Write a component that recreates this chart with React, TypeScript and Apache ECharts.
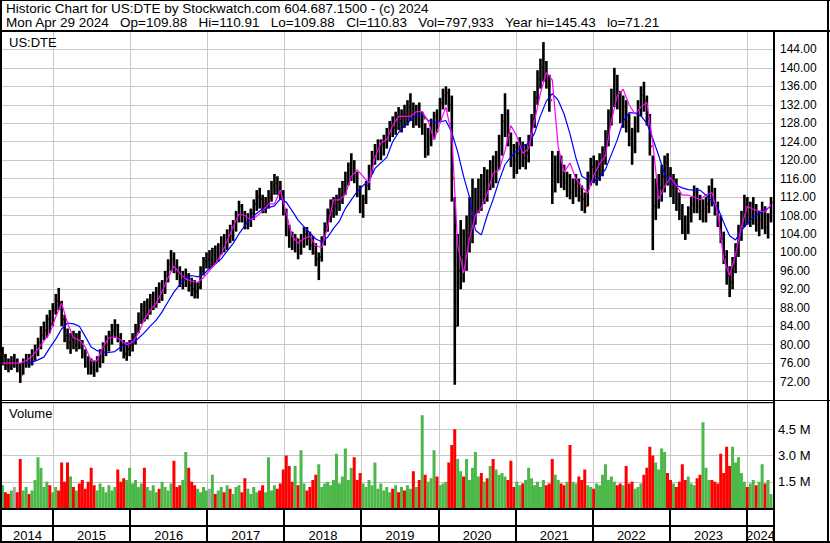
import React, { useEffect, useRef } from 'react';
import * as echarts from 'echarts';

// ---- axis extents (fractional years) ----
const X_MIN = 2014.3385;
const X_MAX = 2024.35;
const START = 2014.345;
const STEP = 14 / 365.25; // one bar = two weeks

const yearStarts = [2015, 2016, 2017, 2018, 2019, 2020, 2021, 2022, 2023, 2024];
const yearLabels = ['2014', '2015', '2016', '2017', '2018', '2019', '2020', '2021', '2022', '2023', '2024'];

// ---- two-week price bars ----
const priceLow = [
  75.5, 74.5, 74, 74.5, 75, 74, 71.7, 73.5, 75, 75,
  75.5, 76.5, 77.5, 79, 81, 81.5, 82.5, 84, 86.5, 87.5,
  84, 80.5, 79, 78, 79, 78.5, 79, 77, 75, 73.5,
  73.5, 73, 74, 75, 76, 77.5, 78.5, 80, 81.5, 80.5,
  78.5, 77, 76.5, 77.5, 78.5, 80, 82.5, 84.5, 85, 85.5,
  86.5, 87.5, 88, 89, 89.5, 91, 93.5, 96, 95.5, 94,
  92.5, 92, 92.5, 91.5, 90.5, 90, 90, 92, 95, 96.5,
  96.5, 97, 97.5, 98, 99.5, 100, 100.5, 102, 102.5, 104.5,
  106.5, 106.5, 105, 105, 105.5, 107, 109, 109.5, 108.5, 108.5,
  109.5, 111, 112.5, 112.5, 111.5, 108, 103.5, 101, 100.5, 100,
  98.5, 99.5, 101, 101.5, 100.5, 99.5, 97, 94, 98, 101.5,
  104.5, 106.5, 107.5, 108, 109, 110.5, 112.5, 114.5, 115.5, 115,
  112, 108.5, 107.5, 110.5, 113.5, 117, 119, 120, 120, 121,
  122.5, 124, 125, 125.5, 126.5, 126, 127, 127.5, 128.5, 127,
  127.5, 127, 125.5, 120.5, 121, 123, 124.5, 126, 128.5, 131,
  132, 130.5, 111, 71.3, 84, 92, 93.5, 96, 100, 102,
  106, 108.5, 109, 110.5, 111, 113.5, 114, 115, 118, 121,
  125, 123, 118.5, 116, 117, 118, 118.5, 118, 119.5, 123,
  127, 132, 135.5, 137, 135.5, 130.5, 110.5, 113, 115, 114,
  113.5, 112, 111.5, 110.5, 112, 111, 109, 108.5, 110, 114.5,
  115, 114.5, 115.5, 116.5, 119, 123, 127.5, 131.5, 131, 128,
  127, 126, 123, 119, 121.5, 126, 129.5, 130.5, 127.5, 121,
  100.5, 107, 109.5, 111, 113, 114.5, 112, 110.5, 109, 107,
  104, 102.7, 104, 106.5, 108.5, 108.5, 107, 106.5, 106.5, 108.5,
  110, 108, 105.5, 102, 97.5, 93, 90.3, 92, 95.5, 99,
  102.5, 105.5, 106, 105.5, 106, 104.5, 103.5, 105, 104, 103, 106.5,
];
const priceHigh = [
  79.5, 78, 77, 77.5, 78, 77, 76, 77, 78, 78,
  79, 80, 81.5, 84, 85, 86.5, 87.5, 89, 91, 92.3,
  89.5, 86.5, 83.5, 82.5, 83, 82.5, 83, 81, 79, 77.5,
  77, 76.5, 77.5, 79, 80.5, 82, 83, 84.5, 85.5, 84.5,
  82.5, 81, 80.5, 81, 82.5, 84.5, 87, 89, 89.5, 90,
  91, 91.5, 92.5, 93.5, 94, 96, 98.5, 100.5, 100, 98.5,
  97, 96, 96.5, 95.5, 94.5, 94, 93.5, 97, 99, 100,
  100.5, 101, 101.5, 102, 103.5, 104, 105, 106, 107, 109,
  111.2, 110.5, 109, 108.5, 109.5, 111.5, 113.5, 114, 112.5, 112,
  113.5, 115.5, 117, 116.5, 115.5, 113.5, 109.5, 106, 104.5, 104,
  103, 104, 105.5, 105.5, 104.5, 103.5, 102, 100, 103.5, 106.5,
  109.5, 111.5, 112, 112.5, 114, 115.5, 117.5, 119.5, 121.5, 120,
  117.5, 114.5, 112.5, 115.5, 119, 122, 123.5, 124.5, 124.5, 125.5,
  127, 128.5, 129.5, 130.5, 131.5, 131, 132, 133, 134.5, 132.5,
  132, 132.5, 130.5, 128, 127, 129, 130.5, 131, 133.5, 135.5,
  136, 135.5, 134, 112, 104, 107, 105, 108, 112, 116,
  114, 116, 117, 118.5, 118, 120, 121, 122, 125.5, 130,
  134.5, 131, 126, 123.5, 124, 125, 124, 123.5, 125.5, 130,
  135, 139.5, 142, 145.6, 141.5, 138.5, 122, 121, 122, 121,
  119, 117.5, 117, 116, 117, 116, 114.5, 113, 117.5, 120.5,
  121, 120, 121.5, 123, 126.5, 131, 135.5, 140, 138.5, 135,
  134, 133, 130, 127, 129.5, 133, 136, 137, 134, 130,
  121, 116, 117, 119, 121, 121.5, 118.5, 117, 116, 113,
  110.5, 108, 110, 112, 114.5, 114, 112.5, 111.5, 112, 114.5,
  116, 114, 111, 108, 104.5, 100.5, 97, 99, 102, 106,
  109, 112.5, 112, 111, 112, 110.5, 109, 111, 110, 108.5, 112,
];
const priceClose = [
  77.5, 75.5, 75, 76.5, 76.5, 74.5, 73.5, 76, 76.5, 76,
  77.5, 78.5, 80.5, 82, 83, 85.5, 84.5, 87.5, 89.5, 89,
  85.5, 82, 80.5, 81, 80, 81.5, 80, 78, 76, 75.5,
  75, 74.5, 76.5, 77.5, 79.5, 80, 82, 83, 84, 81.5,
  80, 78, 79, 80, 81.5, 83.5, 85.5, 87.5, 86.5, 88.5,
  89.5, 90, 91.5, 90.5, 92.5, 95, 97.5, 98.5, 97, 95.5,
  94, 94.5, 95, 93, 92, 91.5, 92.5, 96, 98, 98.5,
  98.5, 99.5, 99, 101, 102, 101.5, 104, 103.5, 106, 107.5,
  110, 108, 106.5, 107, 108.5, 110.5, 112, 111.5, 110, 110.5,
  112, 114.5, 115, 114, 113, 109, 105, 103, 102, 103,
  100.5, 102.5, 104, 103, 101.5, 100, 98.5, 99, 102.5, 105.5,
  108.5, 109.5, 110, 111, 112.5, 114.5, 116.5, 118, 119.5, 116.5,
  113.5, 110, 111.5, 114.5, 118, 120.5, 122, 122.5, 123.5, 124,
  125.5, 127.5, 127, 129.5, 128.5, 130, 129.5, 131.5, 132, 129.5,
  130.5, 128.5, 129, 123, 125, 127.5, 129.5, 128.5, 132.5, 134,
  134.5, 132, 116, 84, 96, 99, 98, 103.5, 107.5, 109,
  110.5, 113, 112, 116.5, 115.5, 118.5, 117, 120.5, 124, 128.5,
  130, 125, 121, 120, 121.5, 123, 120.5, 121.5, 124.5, 129,
  133.5, 137.5, 140, 141, 137.5, 133, 115.5, 118.5, 119, 117.5,
  115, 116.5, 113, 114.5, 115, 112, 111.5, 110, 116.5, 118.5,
  117.5, 118, 119.5, 121.5, 125, 129.5, 133.5, 137.5, 133, 131,
  131.5, 128, 125, 122.5, 128, 131, 134, 133, 129, 123,
  110, 112.5, 114, 116.5, 119.5, 117, 114, 115.5, 111.5, 109,
  106, 105, 108.5, 110.5, 113, 110, 109, 109.5, 110.5, 113,
  112, 109.5, 106.5, 103, 99, 95, 93.5, 97, 100.5, 104.5,
  107.5, 110.5, 108, 109.5, 110, 106, 107, 109.5, 105.5, 107.5, 110.8,
];

// ---- volume (millions) ----
const volumeM = [
  1.3, 0.9, 0.8, 1.0, 1.2, 0.9, 2.8, 1.0, 1.2, 0.8,
  1.0, 1.6, 2.9, 2.3, 1.2, 1.5, 1.3, 0.9, 1.2, 1.0,
  2.6, 1.5, 2.6, 1.8, 1.2, 1.0, 1.4, 1.6, 1.1, 1.5,
  2.3, 1.3, 1.0, 1.4, 1.2, 0.9, 1.3, 1.0, 1.2, 2.2,
  1.5, 1.7, 1.6, 2.3, 1.4, 1.6, 1.2, 1.4, 2.3, 1.2,
  1.0, 1.3, 0.9, 1.1, 1.5, 1.2, 1.0, 1.4, 2.7, 1.2,
  1.3, 1.6, 3.2, 2.3, 1.5, 1.3, 1.1, 0.9, 1.2, 1.0,
  1.1, 1.9, 0.8, 1.0, 1.2, 0.9, 1.3, 1.1, 0.8, 1.2,
  1.3, 0.9, 1.7, 1.1, 0.8, 1.2, 0.9, 1.0, 1.3, 0.9,
  2.9, 1.0, 1.3, 1.1, 1.4, 2.2, 3.0, 2.4, 1.5, 2.4,
  1.3, 3.3, 1.4, 1.0, 1.2, 1.6, 1.9, 2.5, 1.2, 1.4,
  1.5, 1.3, 1.6, 3.1, 1.4, 1.8, 3.4, 1.6, 2.3, 2.9,
  1.6, 2.0, 1.4, 1.2, 1.6, 1.3, 2.6, 1.1, 1.4, 1.0,
  1.2, 0.9, 1.1, 1.3, 0.9, 1.2, 1.0, 1.3, 1.1, 2.1,
  1.2, 1.6, 5.3, 1.9, 1.5, 1.7, 3.3, 1.8, 1.3, 1.4,
  1.5, 2.6, 3.6, 4.5, 2.8, 2.1, 1.8, 2.8, 1.6, 2.3,
  3.2, 1.8, 2.0, 1.5, 1.7, 2.4, 2.8, 2.2, 1.9, 2.0,
  1.8, 1.6, 2.7, 1.2, 1.5, 1.3, 1.4, 1.6, 2.3, 1.7,
  1.3, 1.5, 1.2, 1.6, 1.3, 1.4, 2.8, 1.9, 1.6, 1.4,
  1.3, 1.5, 3.6, 1.5, 1.4, 1.8, 1.6, 2.2, 1.3, 1.2,
  1.1, 1.4, 1.3, 1.9, 2.5, 1.6, 1.8, 1.5, 1.3, 1.4,
  1.3, 2.4, 1.4, 1.5, 1.1, 1.2, 1.4, 1.9, 2.3, 3.5,
  3.0, 2.6, 2.2, 3.4, 3.2, 2.0, 1.6, 1.4, 1.2, 1.5,
  2.5, 1.6, 1.8, 1.4, 1.3, 1.7, 1.9, 4.9, 2.3, 1.6,
  1.6, 1.5, 1.4, 3.1, 2.0, 3.5, 2.4, 3.5, 2.6, 2.9,
  2.0, 1.5, 1.2, 1.4, 1.6, 1.3, 1.5, 2.5, 1.4, 1.6, 0.8,
];

// ---- moving averages (one value every 4 weeks) ----
const maFast = [
  76, 76, 76, 76, 76.5, 77.5, 79, 80.8, 82.5, 86,
  89, 84.7, 81.5, 81, 79.5, 76.5, 76.5, 79.5, 81.5, 81.7,
  81, 80, 80.5, 82.5, 85.5, 87.5, 89, 91.5, 94.5, 97,
  95.5, 94.2, 93.8, 93.5, 94.5, 96, 97.5, 99.5, 102.5, 105.5,
  108.3, 108, 107, 107.8, 109, 110.5, 110.5, 113.5, 108.5, 103.5,
  102, 103, 103.5, 101.5, 101, 105.5, 111.4, 111.4, 112.5, 116.5,
  117.9, 116.5, 115, 120.5, 123.7, 124.4, 127.5, 129.5, 129.5, 129.5,
  130.5, 130.5, 128.5, 124.4, 128, 131.5, 125.5, 101.5, 95.5, 103,
  108, 109.7, 112.8, 117.2, 117.8, 122, 127.5, 125.2, 121.5, 122.5,
  128.5, 134.5, 139, 137.4, 123, 117.4, 119.4, 116, 114.2, 112.8,
  116.6, 119.2, 121, 128.5, 134, 135.4, 132, 130, 131.5, 132.5,
  124, 111.5, 114.3, 116.2, 114.5, 112.4, 112.4, 112, 111.4, 112.5,
  113, 108.5, 98.5, 95, 99.5, 105.5, 110, 109.3, 109, 108.8, 110.3,
];
const maSlow = [
  null, null, null, null, 76, 76.2, 76.7, 77.3, 79.3, 81.2,
  83.4, 84.7, 84.5, 84, 81.8, 79.5, 78.7, 78.4, 78.3, 78.5,
  79.5, 80, 80.3, 81.4, 82.6, 84, 85.3, 87.1, 89.3, 91.4,
  93, 94.4, 95, 94.7, 95.2, 96.5, 97.5, 98.6, 100.3, 101.9,
  104, 105.8, 107.3, 108.5, 109.4, 109.7, 110.1, 111.6, 110.9, 109,
  107, 105.6, 104.2, 102.9, 102.3, 103.3, 105.2, 106.8, 109.5, 111.4,
  113.2, 114.5, 115.5, 118.2, 119.4, 120.6, 124, 126, 127.4, 128.6,
  129.6, 129.9, 128.6, 128.3, 128.3, 128.6, 126, 121.8, 116.5, 112,
  104.8, 103.8, 108, 111.5, 115.5, 119, 120.7, 122.1, 122.9, 123.7,
  125.8, 129.6, 132.8, 134.4, 133, 130, 125.7, 120.5, 116.5, 115.7,
  115.3, 116.3, 118, 121.2, 124.4, 128.4, 130.3, 130.2, 129.6, 128,
  124.7, 121, 117, 115.5, 114.5, 114, 113.6, 113.5, 113.5, 112.4,
  111.2, 109.7, 106.5, 103.6, 102.7, 104.7, 106.3, 107.6, 108.5, 109.2, 110,
];

const FONT = "'Liberation Sans', Arial, sans-serif";
const GRID_GRAY = '#c8c8c8';

export default function App() {
  const ref = useRef<HTMLDivElement>(null);

  useEffect(() => {
    document.body.style.margin = '0';
    if (!ref.current) return;
    const chart = echarts.init(ref.current, null, { renderer: 'svg' });

    const priceData = priceLow.map((lo, i) => [START + i * STEP, lo, priceHigh[i], priceClose[i]]);
    const volData = volumeM.map((v, i) => [START + i * STEP, v, i === 0 ? 1 : priceClose[i] - priceClose[i - 1]]);
    const fastData = maFast.map((v, k) => [START + 2 * k * STEP, v]);
    const slowData = maSlow
      .map((v, k) => (v == null ? null : [START + 2 * k * STEP, v]))
      .filter((d) => d !== null);
    const labelData = yearLabels.map((lab, i) => {
      const a = i === 0 ? X_MIN : yearStarts[i - 1];
      const b = i === yearLabels.length - 1 ? X_MAX : yearStarts[i];
      return [(a + b) / 2, 0.5, lab];
    });
    const boundaryData = yearStarts.map((y) => [y, 0.5]);

    const vGrid = (params: any, api: any) => {
      const cs = params.coordSys;
      const p = api.coord([api.value(0), api.value(1)]);
      const x = Math.round(p[0]) + 0.5;
      return {
        type: 'line',
        shape: { x1: x, y1: cs.y, x2: x, y2: cs.y + cs.height },
        style: { stroke: GRID_GRAY, lineWidth: 1 },
      };
    };

    const hiddenX = (gi: number) => ({
      type: 'value', gridIndex: gi, min: X_MIN, max: X_MAX, show: false,
    });

    const option: any = {
      animation: false,
      backgroundColor: '#ffffff',
      grid: [
        { left: 2, top: 31, width: 772, height: 369 },
        { left: 2, top: 403, width: 772, height: 105 },
        { left: 2, top: 509, width: 772, height: 32 },
      ],
      xAxis: [hiddenX(0), hiddenX(1), hiddenX(2)],
      yAxis: [
        {
          type: 'value', gridIndex: 0, position: 'right', min: 68, max: 148, interval: 4,
          axisLine: { show: false }, axisTick: { show: false },
          axisLabel: {
            margin: 6, color: '#000', fontSize: 12, fontFamily: FONT,
            formatter: (v: number) => (v > 68 && v < 148 ? v.toFixed(2) : ''),
          },
          splitLine: { show: true, lineStyle: { color: GRID_GRAY, width: 1 } },
        },
        {
          type: 'value', gridIndex: 1, position: 'right', min: 0, max: 6, interval: 1.5,
          axisLine: { show: false }, axisTick: { show: false },
          axisLabel: {
            margin: 4, color: '#000', fontSize: 13, fontFamily: FONT,
            formatter: (v: number) => (v > 0 && v < 6 ? v.toFixed(1) + ' M' : ''),
          },
          splitLine: { show: true, lineStyle: { color: GRID_GRAY, width: 1 } },
        },
        { type: 'value', gridIndex: 2, min: 0, max: 1, show: false },
      ],
      series: [
        {
          type: 'custom', name: 'yearGridPrice', xAxisIndex: 0, yAxisIndex: 0, z: 1,
          data: yearStarts.map((y) => [y, 100]), renderItem: vGrid, silent: true,
        },
        {
          type: 'custom', name: 'yearGridVol', xAxisIndex: 1, yAxisIndex: 1, z: 1,
          data: yearStarts.map((y) => [y, 1]), renderItem: vGrid, silent: true,
        },
        {
          type: 'custom', name: 'price', xAxisIndex: 0, yAxisIndex: 0, z: 3,
          data: priceData, encode: { x: 0, y: [1, 2] },
          renderItem: (params: any, api: any) => {
            const x = api.value(0);
            const pHi = api.coord([x, api.value(2)]);
            const pLo = api.coord([x, api.value(1)]);
            const pC = api.coord([x, api.value(3)]);
            return {
              type: 'group',
              children: [
                { type: 'rect', shape: { x: pHi[0] - 1.25, y: pHi[1], width: 2.6, height: Math.max(1, pLo[1] - pHi[1]) }, style: { fill: '#000' } },
                { type: 'rect', shape: { x: pC[0] + 1.35, y: pC[1] - 1, width: 1.5, height: 2 }, style: { fill: '#ff0000' } },
              ],
            };
          },
        },
        {
          type: 'line', name: 'slow', xAxisIndex: 0, yAxisIndex: 0, z: 4, data: slowData,
          symbol: 'none', lineStyle: { color: '#0000ff', width: 1.2 },
        },
        {
          type: 'line', name: 'fast', xAxisIndex: 0, yAxisIndex: 0, z: 5, data: fastData,
          symbol: 'none', lineStyle: { color: '#ff00ff', width: 1.2 },
        },
        {
          type: 'custom', name: 'volume', xAxisIndex: 1, yAxisIndex: 1, z: 3,
          data: volData, encode: { x: 0, y: 1 },
          renderItem: (params: any, api: any) => {
            const x = api.value(0);
            const top = api.coord([x, api.value(1)]);
            const bot = api.coord([x, 0]);
            const d = api.value(2);
            const fill = d > 0 ? '#4cb848' : d < 0 ? '#ff0000' : '#a8a8a8';
            return { type: 'rect', shape: { x: top[0] - 1.5, y: top[1], width: 3, height: bot[1] - top[1] }, style: { fill } };
          },
        },
        {
          type: 'custom', name: 'yearSeparators', xAxisIndex: 2, yAxisIndex: 2, z: 6,
          data: boundaryData,
          renderItem: (params: any, api: any) => {
            const cs = params.coordSys;
            const p = api.coord([api.value(0), 0.5]);
            const x = Math.round(p[0]);
            return { type: 'rect', shape: { x: x - 1, y: cs.y, width: 2, height: cs.height }, style: { fill: '#000' } };
          },
        },
        {
          type: 'custom', name: 'yearLabels', xAxisIndex: 2, yAxisIndex: 2, z: 7,
          data: labelData,
          renderItem: (params: any, api: any) => {
            const cs = params.coordSys;
            const p = api.coord([api.value(0), 0.5]);
            return {
              type: 'text', x: p[0], y: cs.y + 26,
              style: { text: String(yearLabels[params.dataIndex]), fill: '#000', font: `13px ${FONT}`, align: 'center', verticalAlign: 'middle' },
            };
          },
        },
      ],
      graphic: [
        // frame lines
        { type: 'rect', z: 100, shape: { x: 0, y: 0, width: 830, height: 1 }, style: { fill: '#000' } },
        { type: 'rect', z: 100, shape: { x: 0, y: 0, width: 2, height: 543 }, style: { fill: '#000' } },
        { type: 'rect', z: 100, shape: { x: 827, y: 0, width: 2, height: 543 }, style: { fill: '#000' } },
        { type: 'rect', z: 100, shape: { x: 0, y: 30, width: 830, height: 2 }, style: { fill: '#000' } },
        { type: 'rect', z: 100, shape: { x: 773, y: 30, width: 2, height: 513 }, style: { fill: '#000' } },
        { type: 'rect', z: 100, shape: { x: 0, y: 400, width: 830, height: 1 }, style: { fill: '#000' } },
        { type: 'rect', z: 100, shape: { x: 0, y: 402, width: 774, height: 1 }, style: { fill: '#000' } },
        { type: 'rect', z: 100, shape: { x: 0, y: 508, width: 774, height: 2 }, style: { fill: '#000' } },
        { type: 'rect', z: 100, shape: { x: 0, y: 525, width: 774, height: 2 }, style: { fill: '#000' } },
        { type: 'rect', z: 100, shape: { x: 0, y: 541, width: 830, height: 2 }, style: { fill: '#000' } },
        // texts
        {
          type: 'text', z: 100, x: 6, y: 8.5,
          style: { text: 'Historic Chart for US:DTE by Stockwatch.com 604.687.1500 - (c) 2024', fill: '#000', font: `13.5px ${FONT}`, verticalAlign: 'middle' },
        },
        {
          type: 'text', z: 100, x: 6, y: 22.5,
          style: {
            text: 'Mon Apr 29 2024\u00a0\u00a0\u00a0Op=109.88\u00a0\u00a0\u00a0Hi=110.91\u00a0\u00a0\u00a0Lo=109.88\u00a0\u00a0\u00a0Cl=110.83\u00a0\u00a0\u00a0Vol=797,933\u00a0\u00a0\u00a0Year hi=145.43\u00a0\u00a0\u00a0lo=71.21',
            fill: '#000', font: `13.5px ${FONT}`, verticalAlign: 'middle',
          },
        },
        { type: 'text', z: 100, x: 9, y: 42, style: { text: 'US:DTE', fill: '#000', font: `13px ${FONT}`, verticalAlign: 'middle' } },
        { type: 'text', z: 100, x: 9, y: 413, style: { text: 'Volume', fill: '#000', font: `13px ${FONT}`, verticalAlign: 'middle' } },
      ],
    };

    chart.setOption(option);
    return () => chart.dispose();
  }, []);

  return <div ref={ref} style={{ width: 830, height: 543 }} />;
}
